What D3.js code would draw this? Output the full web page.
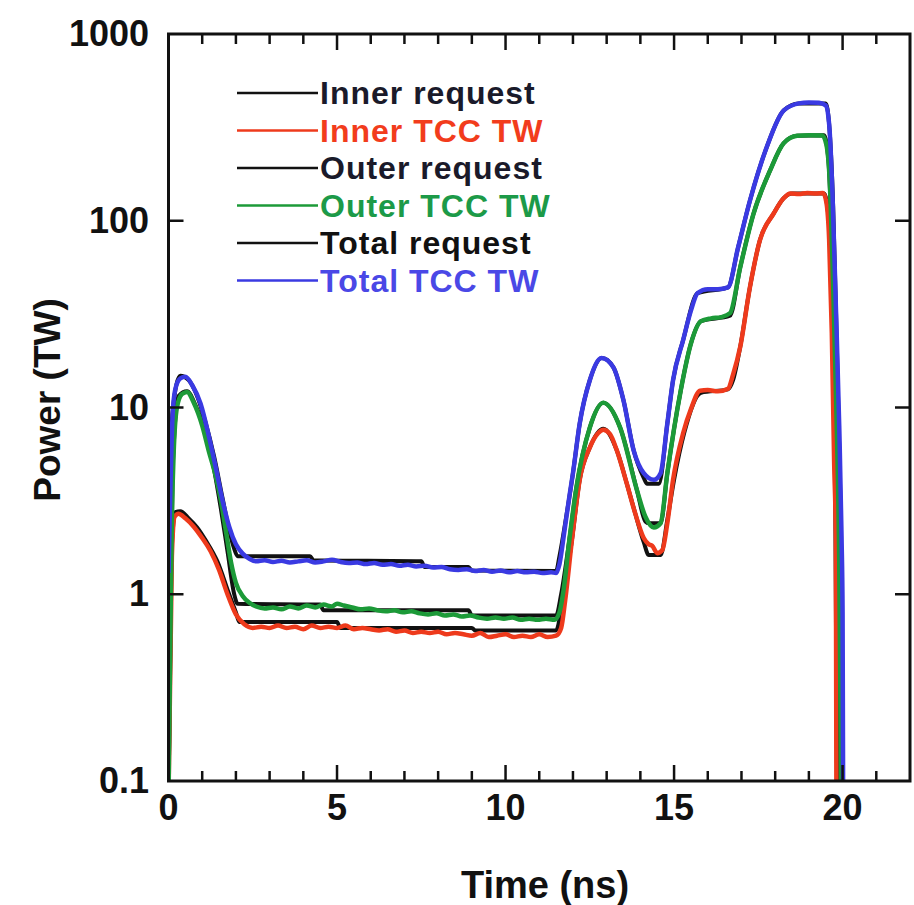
<!DOCTYPE html>
<html>
<head>
<meta charset="utf-8">
<script src="https://cdn.jsdelivr.net/npm/d3@7"></script>
<style>
  body { margin: 0; background: #fff; }
  text { font-family: "Liberation Sans", Arial, sans-serif; font-weight: bold; }
</style>
</head>
<body>
<div id="chart"></div>
<script>
// time (ns) / power (TW)
const innerReqT = [0, 0.08, 0.2, 0.35, 0.6, 0.85, 1.1, 1.45, 1.8, 2.0, 2.1, 5.0, 5.1, 9.0, 9.1, 11.5, 11.7, 11.97, 12.2, 12.5, 12.9, 13.3, 13.6, 13.85, 14.1, 14.25, 14.6, 14.8, 15.0, 15.3, 15.8, 16.6, 16.75, 16.96, 17.25, 17.55, 17.95, 18.25, 18.5, 19.45, 19.58, 19.7, 19.78, 19.84];
const innerReqV = [0.08, 1.5, 2.75, 2.78, 2.55, 2.28, 1.95, 1.5, 1.0, 0.8, 0.71, 0.71, 0.66, 0.66, 0.64, 0.64, 0.95, 1.95, 4.1, 6.1, 7.7, 5.9, 3.9, 2.7, 1.9, 1.62, 1.62, 2.5, 4.1, 7.3, 12.0, 12.5, 14, 21, 44, 79, 109, 132, 140, 140, 105, 35, 4, 0.05];

const innerTccT = [0, 0.1, 0.18, 0.3, 0.5, 0.75, 1.0, 1.25, 1.5, 1.75, 2.0, 2.25, 2.5, 2.75,
  3.0, 3.25, 3.5, 3.75, 4.0, 4.25, 4.5, 4.75, 5.0, 5.25, 5.5, 5.75, 6.0, 6.25, 6.5, 6.75, 7.0, 7.25, 7.5, 7.75,
  8.0, 8.25, 8.5, 8.75, 9.0, 9.25, 9.5, 9.75, 10.0, 10.25, 10.5, 10.75, 11.0, 11.25, 11.5, 11.65, 11.77, 11.97,
  12.2, 12.5, 12.75, 12.9, 13.1, 13.3, 13.6, 13.85, 14.1, 14.25, 14.35, 14.5, 14.65, 14.8, 14.97, 15.27, 15.5,
  15.77, 16.0, 16.3, 16.6, 16.75, 16.96, 17.25, 17.55, 17.95, 18.25, 18.45, 18.7, 18.95, 19.2, 19.42, 19.52,
  19.6, 19.68, 19.75, 19.8, 19.82];
const innerTccV = [0.08, 1.6, 2.6, 2.7, 2.55, 2.3, 2.0, 1.7, 1.35, 1.0, 0.78, 0.69, 0.66, 0.67,
  0.66, 0.68, 0.66, 0.67, 0.65, 0.68, 0.66, 0.67, 0.66, 0.68, 0.65, 0.66, 0.65, 0.64, 0.65, 0.63, 0.64, 0.62, 0.63, 0.62,
  0.63, 0.61, 0.62, 0.61, 0.60, 0.62, 0.59, 0.60, 0.61, 0.59, 0.60, 0.59, 0.61, 0.59, 0.60, 0.66, 0.93, 1.95,
  4.1, 6.1, 7.3, 7.6, 7.2, 5.9, 3.9, 2.7, 2.0, 1.85, 1.82, 1.66, 1.72, 2.4, 4.1, 7.3, 9.8,
  12.3, 12.4, 12.2, 12.6, 15, 21, 44, 79, 109, 132, 140, 139, 141, 140, 141, 125,
  80, 25, 5, 2, 0.05];

const outerReqT = [0, 0.12, 0.3, 0.55, 0.8, 1.05, 1.3, 1.55, 1.75, 1.95, 2.05, 4.5, 4.6, 8.9, 9.0, 11.5, 11.65, 11.9, 12.1, 12.5, 12.9, 13.4, 13.9, 14.15, 14.25, 14.6, 14.8, 15.2, 15.5, 15.8, 16.66, 16.96, 17.35, 17.85, 18.25, 18.65, 19.45, 19.58, 19.72, 19.85, 19.95];
const outerReqV = [0.08, 4.5, 11.5, 12.2, 10.3, 7.8, 5.2, 2.9, 1.7, 1.0, 0.89, 0.88, 0.82, 0.82, 0.77, 0.77, 1.0, 2.0, 3.7, 7.8, 10.6, 7.8, 3.6, 2.45, 2.4, 2.4, 4.45, 12.4, 22, 29, 31, 56, 108, 186, 260, 285, 287, 210, 45, 5, 0.05];

const outerTccT = [0, 0.05, 0.1, 0.15, 0.25, 0.4, 0.55, 0.75, 1.0, 1.2, 1.4, 1.55, 1.7, 1.85, 2.0, 2.2, 2.4, 2.6,
  2.85, 3.1, 3.35, 3.6, 3.85, 4.1, 4.35, 4.6, 4.85, 5.0, 5.2, 5.45, 5.7, 5.95, 6.2, 6.45, 6.7, 6.95, 7.2, 7.45,
  7.7, 7.95, 8.2, 8.45, 8.7, 8.95, 9.2, 9.45, 9.7, 9.95, 10.2, 10.45, 10.7, 10.95, 11.2, 11.45, 11.6, 11.72,
  11.9, 12.1, 12.5, 12.9, 13.4, 13.9, 14.15, 14.4, 14.6, 14.8, 15.2, 15.5, 15.8, 16.1, 16.4, 16.66, 16.96,
  17.35, 17.85, 18.25, 18.65, 19.0, 19.4, 19.52, 19.62, 19.72, 19.82, 19.9, 19.97];
const outerTccV = [0.08, 0.5, 2.5, 5.5, 10, 11.8, 12.1, 10.6, 8.0, 5.8, 4.3, 3.2, 2.2, 1.5, 1.15, 0.98, 0.9, 0.86,
  0.84, 0.85, 0.83, 0.86, 0.84, 0.87, 0.85, 0.88, 0.86, 0.89, 0.87, 0.85, 0.83, 0.84, 0.82, 0.81, 0.82, 0.80, 0.81, 0.79,
  0.78, 0.79, 0.77, 0.78, 0.76, 0.77, 0.75, 0.74, 0.75, 0.74, 0.75, 0.73, 0.74, 0.73, 0.74, 0.73, 0.8, 1.05,
  2.0, 3.7, 7.8, 10.6, 7.8, 3.6, 2.6, 2.28, 2.4, 4.45, 12.4, 22, 29, 30, 30.5, 32, 56,
  108, 186, 260, 285, 287, 286, 255, 160, 45, 9, 1.5, 0.05];

const totalReqT = [0, 0.12, 0.35, 0.6, 0.85, 1.1, 1.35, 1.6, 1.8, 1.95, 2.05, 4.2, 4.3, 7.5, 7.6, 8.9, 9.0, 11.5, 11.6, 11.8, 12.0, 12.2, 12.5, 12.86, 13.2, 13.5, 13.8, 14.1, 14.2, 14.55, 14.8, 14.97, 15.27, 15.7, 16.6, 16.9, 17.25, 17.75, 18.25, 18.7, 19.5, 19.6, 19.72, 19.82, 19.9, 19.97, 20.0];
const totalReqV = [2.0, 9.5, 14.8, 14.0, 11.5, 8.3, 5.5, 3.3, 2.2, 1.75, 1.6, 1.6, 1.52, 1.5, 1.4, 1.4, 1.34, 1.33, 1.6, 2.6, 4.45, 8.2, 14, 18.4, 16.4, 10.9, 5.9, 4.2, 3.9, 3.9, 8.2, 14, 23, 41, 44, 72, 128, 248, 389, 425, 425, 330, 120, 25, 6, 1, 0.05];

const totalTccT = [0, 0.06, 0.12, 0.2, 0.35, 0.5, 0.7, 0.95, 1.2, 1.4, 1.6, 1.8, 2.0, 2.2, 2.4, 2.6,
  2.85, 3.1, 3.35, 3.6, 3.85, 4.1, 4.35, 4.6, 4.85, 5.1, 5.35, 5.6, 5.85, 6.1, 6.35, 6.6, 6.85, 7.1, 7.35, 7.6,
  7.85, 8.1, 8.35, 8.6, 8.85, 9.1, 9.35, 9.6, 9.85, 10.1, 10.35, 10.6, 10.85, 11.1, 11.35, 11.5, 11.6, 11.75,
  11.9, 12.0, 12.2, 12.5, 12.85, 13.2, 13.5, 13.8, 14.1, 14.4, 14.6, 14.8, 14.97, 15.27, 15.5, 15.7, 16.0,
  16.3, 16.6, 16.9, 17.25, 17.75, 18.25, 18.7, 19.0, 19.3, 19.5, 19.6, 19.7, 19.8, 19.9, 19.97, 20.0, 20.02];
const totalTccV = [1.3, 4, 9, 12.5, 14.3, 14.6, 13.2, 10.5, 7.0, 4.8, 3.2, 2.3, 1.85, 1.65, 1.55, 1.5,
  1.52, 1.49, 1.51, 1.48, 1.5, 1.52, 1.48, 1.5, 1.53, 1.49, 1.47, 1.48, 1.45, 1.47, 1.44, 1.45, 1.42, 1.44, 1.41, 1.42,
  1.39, 1.4, 1.36, 1.35, 1.36, 1.33, 1.35, 1.32, 1.34, 1.31, 1.33, 1.31, 1.32, 1.3, 1.31, 1.3, 1.45, 2.2,
  3.4, 4.45, 8.2, 14, 18.4, 16.4, 10.9, 5.9, 4.45, 4.1, 4.45, 8.2, 14, 23, 33, 41, 43,
  43, 44, 72, 128, 248, 389, 425, 430, 428, 415, 330, 140, 35, 8, 2, 0.8, 0.05];

const legendLabels = ["Inner request", "Inner TCC TW", "Outer request", "Outer TCC TW", "Total request", "Total TCC TW"];
const xTicks = [0, 5, 10, 15, 20];
const yTicks = [0.1, 1, 10, 100, 1000];
const yTickLabels = ["0.1", "1", "10", "100", "1000"];

const width = 914, height = 905;
const margin = { top: 34, right: 4, bottom: 124, left: 168.5 };

const svg = d3.select('#chart').append('svg')
  .attr('width', width)
  .attr('height', height);

const x = d3.scaleLinear().domain([0, 22]).range([margin.left, width - margin.right]);
const y = d3.scaleLog().domain([0.1, 1000]).range([height - margin.bottom, margin.top]);

svg.append('defs').append('clipPath').attr('id', 'plot')
  .append('rect')
  .attr('x', x(0)).attr('y', y(1000))
  .attr('width', x(22) - x(0)).attr('height', y(0.1) - y(1000));

const series = [
  { t: innerReqT, v: innerReqV, color: '#111', w: 4 },
  { t: outerReqT, v: outerReqV, color: '#111', w: 4 },
  { t: totalReqT, v: totalReqV, color: '#111', w: 4 },
  { t: innerTccT, v: innerTccV, color: '#ee3a1c', w: 4.5 },
  { t: outerTccT, v: outerTccV, color: '#1c9a38', w: 4.5 },
  { t: totalTccT, v: totalTccV, color: '#3a3ae2', w: 4.5 }
];

const line = d3.line()
  .x(d => x(d[0]))
  .y(d => y(Math.max(d[1], 0.03)))
  .curve(d3.curveMonotoneX);

const plot = svg.append('g').attr('clip-path', 'url(#plot)');
series.forEach(s => {
  plot.append('path')
    .datum(s.t.map((t, i) => [t, s.v[i]]))
    .attr('d', line)
    .attr('fill', 'none')
    .attr('stroke', s.color)
    .attr('stroke-width', s.w)
    .attr('stroke-linejoin', 'round');
});

// frame
svg.append('rect')
  .attr('x', x(0)).attr('y', y(1000))
  .attr('width', x(22) - x(0)).attr('height', y(0.1) - y(1000))
  .attr('fill', 'none').attr('stroke', '#111').attr('stroke-width', 3);

// inward ticks
const minor = d3.range(1, 22).filter(v => v % 5 !== 0);
const ticks = svg.append('g').attr('stroke', '#111').attr('stroke-width', 2.5);
[[xTicks.filter(v => v > 0), 16], [minor, 10]].forEach(([vals, len]) => {
  vals.forEach(v => {
    ticks.append('line').attr('x1', x(v)).attr('x2', x(v)).attr('y1', y(0.1)).attr('y2', y(0.1) - len);
    ticks.append('line').attr('x1', x(v)).attr('x2', x(v)).attr('y1', y(1000)).attr('y2', y(1000) + len);
  });
});
[1, 10, 100].forEach(v => {
  ticks.append('line').attr('x1', x(0)).attr('x2', x(0) + 15).attr('y1', y(v)).attr('y2', y(v));
  ticks.append('line').attr('x1', x(22)).attr('x2', x(22) - 15).attr('y1', y(v)).attr('y2', y(v));
});

// tick labels
svg.append('g').selectAll('text').data(xTicks).join('text')
  .attr('x', d => x(d)).attr('y', 820)
  .attr('text-anchor', 'middle')
  .attr('font-size', 36)
  .attr('fill', '#111')
  .text(d => d);

svg.append('g').selectAll('text').data(yTicks).join('text')
  .attr('x', 149).attr('y', d => y(d) + 12)
  .attr('text-anchor', 'end')
  .attr('font-size', 36)
  .attr('fill', '#111')
  .text((d, i) => yTickLabels[i]);

// axis titles
svg.append('text')
  .attr('x', 545).attr('y', 898)
  .attr('text-anchor', 'middle')
  .attr('font-size', 38)
  .attr('fill', '#111')
  .text('Time (ns)');

svg.append('text')
  .attr('transform', 'translate(60,400) rotate(-90)')
  .attr('text-anchor', 'middle')
  .attr('font-size', 37)
  .attr('fill', '#111')
  .text('Power (TW)');

// legend
const legendColors = ['#111', '#ee3a1c', '#111', '#1c9a38', '#111', '#3a3ae2'];
const legendText = ['#1a1a2a', '#f23c1c', '#1a1a2a', '#1c9a48', '#111', '#4a48e6'];
const legend = svg.append('g');
legendLabels.forEach((label, i) => {
  const ly = 93 + i * 37.5;
  legend.append('line')
    .attr('x1', 237).attr('x2', 318).attr('y1', ly).attr('y2', ly)
    .attr('stroke', legendColors[i]).attr('stroke-width', 2.5);
  legend.append('text')
    .attr('x', 320).attr('y', ly + 11)
    .attr('font-size', 32)
    .attr('letter-spacing', 1)
    .attr('fill', legendText[i])
    .text(label);
});
</script>
</body>
</html>
